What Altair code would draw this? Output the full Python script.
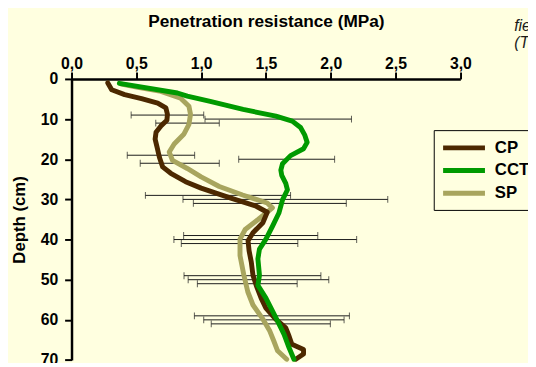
import altair as alt
import pandas as pd

# ---- data ----
series_names = ["CP", "CCT", "SP"]
series_colors = ["#4C2800", "#009A00", "#A8A55E"]

cp_depth = [1, 2.7, 3.9, 4.9, 6.0, 7.2, 8.8, 10.3, 11.7, 13.3, 15.0, 17.0, 19.5, 21.9, 23.5,
            25.6, 27.2, 28.5, 29.7, 31.7, 33.2, 35.8, 38.3, 40.3, 42.8, 45.6, 48.9, 51.4,
            54.6, 57.1, 59.9, 62.0, 64.0, 66.1, 67.4, 68.5, 69.8]
cp_value = [0.28, 0.31, 0.41, 0.54, 0.665, 0.728, 0.74, 0.736, 0.69, 0.652, 0.645, 0.66, 0.678,
            0.703, 0.766, 0.88, 1.0, 1.12, 1.23, 1.425, 1.51, 1.476, 1.40, 1.362, 1.37, 1.387,
            1.40, 1.425, 1.463, 1.50, 1.577, 1.653, 1.678, 1.70, 1.79, 1.79, 1.73]

cct_depth = [1.1, 3.5, 4.3, 5.6, 7.6, 9.25, 10.5, 12.1, 14.0, 15.8, 17.4, 19.1, 21.1, 22.7,
             24.0, 26.0, 27.6, 30.1, 33.4, 36.6, 39.9, 42.4, 44.8, 48.9, 51.4, 54.6, 57.9,
             60.3, 63.6, 66.9, 69.8]
cct_value = [0.369, 0.817, 0.893, 1.07, 1.324, 1.577, 1.703, 1.767, 1.80, 1.818, 1.79, 1.69,
             1.628, 1.615, 1.622, 1.653, 1.666, 1.628, 1.60, 1.552, 1.50, 1.45, 1.438, 1.45,
             1.438, 1.50, 1.552, 1.59, 1.64, 1.678, 1.716]

sp_depth = [1.3, 2.1, 3.1, 4.8, 6.8, 8.8, 11.3, 13.7, 16.2, 18.2, 20.3, 22.3, 24.4, 26.8, 28.9,
            30.9, 32.1, 35.0, 37.5, 39.9, 44.0, 48.9, 53.0, 56.3, 59.5, 62.8, 65.2, 67.7, 69.8]
sp_value = [0.386, 0.513, 0.69, 0.842, 0.906, 0.918, 0.906, 0.868, 0.792, 0.754, 0.779, 0.893,
            1.0, 1.14, 1.32, 1.51, 1.55, 1.44, 1.34, 1.30, 1.30, 1.33, 1.36, 1.40, 1.47, 1.53,
            1.56, 1.59, 1.66]

# error bars (min / max of resistance) at each sampled depth
cp_err_depth = [9, 19, 29, 39, 49, 59]
cp_err_lo = [0.46, 0.43, 0.57, 0.865, 0.868, 0.948]
cp_err_hi = [1.02, 0.95, 1.69, 1.90, 1.924, 2.144]

cct_err_depth = [10, 20, 30, 40, 50, 60]
cct_err_lo = [1.03, 1.29, 0.86, 0.79, 0.90, 1.02]
cct_err_hi = [2.16, 2.03, 2.44, 2.20, 1.985, 2.103]

sp_err_depth = [11, 21, 31, 41, 51, 61]
sp_err_lo = [0.65, 0.53, 0.94, 0.847, 0.971, 1.078]
sp_err_hi = [1.14, 1.14, 2.12, 1.746, 1.741, 1.997]

x_ticks = [0, 0.5, 1.0, 1.5, 2.0, 2.5, 3.0]
y_ticks = [0, 10, 20, 30, 40, 50, 60, 70]
x_title = "Penetration resistance (MPa)"
y_title = "Depth (cm)"
side_text = ["fie", "(T"]

# ---- tables ----
line_rows = []
for name, ds, vs in [("CP", cp_depth, cp_value), ("CCT", cct_depth, cct_value), ("SP", sp_depth, sp_value)]:
    for d, v in zip(ds, vs):
        line_rows.append({"series": name, "depth": d, "mpa": v})
lines_df = pd.DataFrame(line_rows)

err_rows = []
for name, ds, los, his in [("CP", cp_err_depth, cp_err_lo, cp_err_hi),
                           ("CCT", cct_err_depth, cct_err_lo, cct_err_hi),
                           ("SP", sp_err_depth, sp_err_lo, sp_err_hi)]:
    for d, lo, hi in zip(ds, los, his):
        err_rows.append({"series": name, "depth": d, "lo": lo, "hi": hi})
err_df = pd.DataFrame(err_rows)

FONT = "Liberation Sans"
BG = "#FFFFE0"

x_scale = alt.Scale(domain=[0, 3], nice=False, zero=False)
y_scale = alt.Scale(domain=[0, 70], reverse=True, nice=False, zero=False)

x_axis = alt.Axis(orient="top", values=x_ticks,
                  labelExpr="replace(format(datum.value, '.1f'), '.', ',')",
                  labelFont=FONT, labelFontSize=16, labelFontWeight="bold", labelColor="black",
                  labelPadding=1, labelFlush=False, tickSize=7, tickWidth=2, tickColor="black",
                  domainColor="black", domainWidth=2.5, grid=False,
                  titleFont=FONT, titleFontSize=17.5, titleFontWeight="bold", titleColor="black",
                  titlePadding=25)
y_axis = alt.Axis(orient="left", values=y_ticks,
                  labelFont=FONT, labelFontSize=16, labelFontWeight="bold", labelColor="black",
                  labelPadding=7, labelFlush=False, tickSize=7, tickWidth=2, tickColor="black",
                  domainColor="black", domainWidth=2.5, grid=False,
                  titleFont=FONT, titleFontSize=17, titleFontWeight="bold", titleColor="black",
                  titlePadding=12)


def X(field):
    return alt.X(field, type="quantitative", scale=x_scale, axis=x_axis, title=x_title)


def Y(field):
    return alt.Y(field, type="quantitative", scale=y_scale, axis=y_axis, title=y_title)


color = alt.Color("series:N",
                  scale=alt.Scale(domain=series_names, range=series_colors),
                  legend=alt.Legend(orient="none", legendX=367.8, legendY=52, title=None,
                                    symbolType="M-1,0H4", symbolSize=289,
                                    symbolStrokeWidth=5, labelFont=FONT, labelFontSize=17,
                                    labelFontWeight="bold", labelColor="black",
                                    labelExpr="datum.label + '\u00a0\u00a0\u00a0'",
                                    strokeColor="black", fillColor=BG, padding=7,
                                    rowPadding=2, symbolOffset=0, labelOffset=33))

base = alt.Chart(lines_df).mark_line(strokeWidth=5, strokeCap="round", strokeJoin="round").encode(
    x=X("mpa"), y=Y("depth"), color=color, order="depth:Q")

layer_sp = base.transform_filter(alt.datum.series == "SP")
layer_cp = base.transform_filter(alt.datum.series == "CP")
layer_cct = base.transform_filter(alt.datum.series == "CCT")

err_base = alt.Chart(err_df)
rules = err_base.mark_rule(color="#1a1a1a", strokeWidth=1).encode(
    x=X("lo"), x2="hi:Q", y=Y("depth"))
caps_lo = err_base.mark_tick(color="#1a1a1a", orient="vertical", size=7, thickness=1).encode(
    x=X("lo"), y=Y("depth"))
caps_hi = err_base.mark_tick(color="#1a1a1a", orient="vertical", size=7, thickness=1).encode(
    x=X("hi"), y=Y("depth"))

txt1 = alt.Chart(pd.DataFrame({"t": [side_text[0]]})).mark_text(
    align="left", baseline="alphabetic", font=FONT, fontSize=16, fontStyle="italic",
    color="#1a1a1a").encode(text="t:N", x=alt.value(449.5), y=alt.value(-48.5))
txt2 = alt.Chart(pd.DataFrame({"t": [side_text[1]]})).mark_text(
    align="left", baseline="alphabetic", font=FONT, fontSize=16, fontStyle="italic",
    color="#1a1a1a").encode(text="t:N", x=alt.value(449.5), y=alt.value(-31.5))

chart = alt.layer(rules, caps_lo, caps_hi, layer_sp, layer_cp, layer_cct, txt1, txt2).properties(
    width=394.8, height=285.4,
    padding={"left": 64.5, "top": 69.3, "right": 68.7, "bottom": 0},
    autosize=alt.AutoSizeParams(type="none"),
    background=BG,
).configure_view(stroke=None)

chart.save("out.html", embed_options={"renderer": "svg", "actions": False})
